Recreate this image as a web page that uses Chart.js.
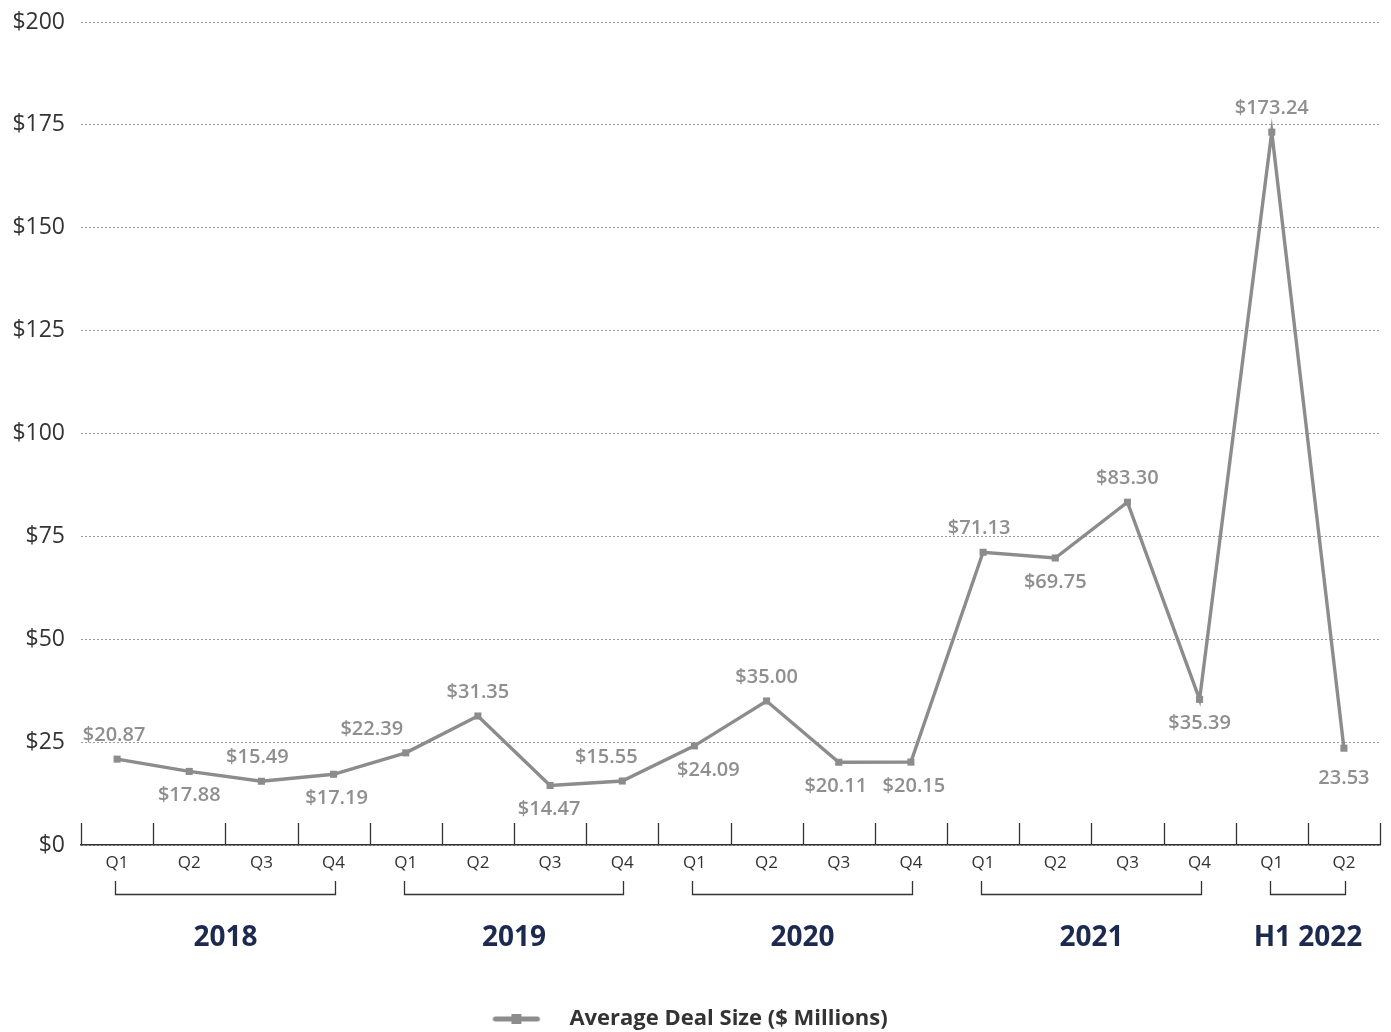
<!DOCTYPE html>
<html>
<head>
<meta charset="utf-8">
<script src="https://cdn.jsdelivr.net/npm/chart.js@4.4.1/dist/chart.umd.min.js"></script>
<style>
  html, body { margin: 0; padding: 0; background: #fff; }
  #wrap { width: 1391px; height: 1032px; position: relative; }
</style>
</head>
<body>
<div id="wrap"><canvas id="dealChart"></canvas></div>
<script>
// quarters on the x axis
const quarters = ['Q1', 'Q2', 'Q3', 'Q4', 'Q1', 'Q2', 'Q3', 'Q4', 'Q1', 'Q2', 'Q3', 'Q4',
                  'Q1', 'Q2', 'Q3', 'Q4', 'Q1', 'Q2'];
// average deal size, $ millions
const dealSize = [20.87, 17.88, 15.49, 17.19, 22.39, 31.35, 14.47, 15.55, 24.09, 35.00, 20.11, 20.15,
                  71.13, 69.75, 83.30, 35.39, 173.24, 23.53];
// year groups under the quarters
const yearLabels = ['2018', '2019', '2020', '2021', 'H1 2022'];
const yearFirst = [0, 4, 8, 12, 16];
const yearLast = [3, 7, 11, 15, 17];
const yTicks = [0, 25, 50, 75, 100, 125, 150, 175, 200];

// where each value label sits: -1 above the point, 1 below
const labelSide = [-1, 1, -1, 1, -1, -1, 1, -1, 1, -1, 1, 1, -1, 1, -1, 1, -1, 1];
const labelShiftX = [-3, 0, -4, 3, -34, 0, -1, -16, 14, 0, -3, 3, -4, 0, 0, 0, 0, 0];

const FONT = '"Open Sans", "Noto Sans", sans-serif';
const lineGrey = '#8c8c8c';
const navy = '#1b2a4e';

// little legend swatch: a line with a square marker
const swatch = document.createElement('canvas');
swatch.width = 66;
swatch.height = 12;
(function () {
    const c = swatch.getContext('2d');
    c.strokeStyle = lineGrey;
    c.lineWidth = 5;
    c.lineCap = 'round';
    c.beginPath();
    c.moveTo(3, 6);
    c.lineTo(45, 6);
    c.stroke();
    c.fillStyle = lineGrey;
    c.fillRect(19, 1, 10, 10);
})();

const valueLabels = {
    id: 'valueLabels',
    afterDatasetsDraw(chart) {
        const ctx = chart.ctx;
        const meta = chart.getDatasetMeta(0);
        ctx.save();
        ctx.font = '600 20px ' + FONT;
        ctx.fillStyle = '#8f8f8f';
        ctx.textAlign = 'center';
        ctx.textBaseline = 'middle';
        meta.data.forEach((pt, i) => {
            const v = dealSize[i];
            // the last label in the source has no dollar sign
            const txt = (i === dealSize.length - 1 ? '' : '$') + v.toFixed(2);
            const dy = labelSide[i] < 0 ? -24 : (i === dealSize.length - 1 ? 30 : 24);
            ctx.fillText(txt, pt.x + labelShiftX[i], pt.y + dy);
        });
        ctx.restore();
    }
};

const axisExtras = {
    id: 'axisExtras',
    afterDraw(chart) {
        const ctx = chart.ctx;
        const x = chart.scales.x;
        const bottom = chart.chartArea.bottom;
        const step = x.getPixelForValue(1) - x.getPixelForValue(0);
        ctx.save();
        // upward tick marks between quarters
        ctx.strokeStyle = '#333';
        ctx.lineWidth = 1.3;
        ctx.beginPath();
        for (let i = 0; i <= quarters.length; i++) {
            const px = Math.round(x.getPixelForValue(i) - step / 2) + 0.5;
            ctx.moveTo(px, bottom);
            ctx.lineTo(px, bottom - 22);
        }
        ctx.stroke();

        // brackets and year names
        ctx.lineWidth = 1.3;
        ctx.font = 'bold 28px ' + FONT;
        ctx.fillStyle = navy;
        ctx.textAlign = 'center';
        ctx.textBaseline = 'middle';
        yearLabels.forEach((lab, k) => {
            const x0 = Math.round(x.getPixelForValue(yearFirst[k]) - 2) + 0.5;
            const x1 = Math.round(x.getPixelForValue(yearLast[k]) + 1) + 0.5;
            ctx.beginPath();
            ctx.moveTo(x0, bottom + 36);
            ctx.lineTo(x0, bottom + 49.5);
            ctx.lineTo(x1, bottom + 49.5);
            ctx.lineTo(x1, bottom + 36);
            ctx.stroke();
            ctx.fillText(lab, (x0 + x1) / 2, bottom + 93);
        });
        ctx.restore();
    }
};

new Chart(document.getElementById('dealChart'), {
    type: 'line',
    data: {
        labels: quarters,
        datasets: [{
            label: 'Average Deal Size ($ Millions)',
            data: dealSize,
            borderColor: lineGrey,
            backgroundColor: lineGrey,
            borderWidth: 3.4,
            pointStyle: 'rect',
            pointRadius: 5,
            pointBorderWidth: 0,
            tension: 0
        }]
    },
    options: {
        responsive: true,
        maintainAspectRatio: false,
        animation: false,
        events: [],
        layout: { padding: { top: 22, right: 11, left: 0, bottom: -8 } },
        scales: {
            x: {
                offset: true,
                grid: { display: false, drawTicks: false },
                border: { display: true, color: '#333', width: 1.5 },
                ticks: {
                    color: '#333',
                    font: { family: FONT, size: 17 },
                    padding: 8,
                    maxRotation: 0,
                    autoSkip: false
                },
                afterFit(scale) { scale.height = 159; }
            },
            y: {
                min: 0,
                max: 200,
                afterBuildTicks(scale) { scale.ticks = yTicks.map(v => ({ value: v })); },
                grid: {
                    color: '#9a9a9a',
                    lineWidth: 1,
                    drawTicks: false
                },
                border: { display: false, dash: [2, 2] },
                ticks: {
                    color: '#333',
                    font: { family: FONT, size: 23 },
                    padding: 16,
                    callback: v => '$' + v
                },
                afterFit(scale) {
                    scale.width = 81;
                    scale.paddingTop = 0;
                    scale.paddingBottom = 0;
                }
            }
        },
        plugins: {
            tooltip: { enabled: false },
            legend: {
                position: 'bottom',
                labels: {
                    usePointStyle: true,
                    pointStyleWidth: 66,
                    color: '#333',
                    font: { family: FONT, size: 22, weight: 'bold' },
                    padding: 4,
                    generateLabels(chart) {
                        const items = Chart.defaults.plugins.legend.labels.generateLabels(chart);
                        items.forEach(it => { it.pointStyle = swatch; });
                        return items;
                    }
                }
            }
        }
    },
    plugins: [valueLabels, axisExtras]
});
</script>
</body>
</html>
